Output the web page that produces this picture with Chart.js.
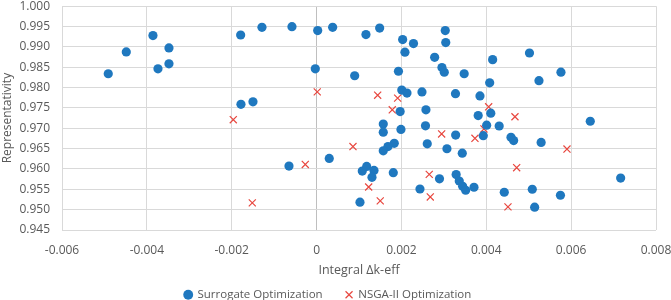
<!DOCTYPE html>
<html>
<head>
<meta charset="utf-8">
<script src="https://cdn.jsdelivr.net/npm/chart.js@4.4.1/dist/chart.umd.min.js"></script>
<style>
    html, body { margin: 0; padding: 0; background: #fff; }
    #wrap { width: 671px; height: 300px; }
</style>
</head>
<body>
<div id="wrap"><canvas id="chart" width="671" height="300"></canvas></div>
<script>
// Surrogate Optimization (blue dots)
const surrogateX = [
    -0.00491, -0.004485, -0.003856, -0.003479, -0.003738, -0.003479,
    -0.001789, -0.001287, -0.00058, 0.000026, 0.000379, -0.00003, 0.000898, 0.001164, 0.001487,
    -0.001782, -0.001499, -0.00065, 0.000299, 0.001023,
    0.002029, 0.002284, 0.002083, 0.003033, 0.003045, 0.002783, 0.002955, 0.00301, 0.003479, 0.00193,
    0.002008, 0.002131, 0.002484, 0.003274, 0.003851, 0.00197, 0.002578,
    0.001572, 0.001572, 0.001989, 0.002567, 0.003278, 0.002609, 0.003073, 0.003434, 0.001831, 0.001683, 0.001572,
    0.001077, 0.001181, 0.001353, 0.001306, 0.001808, 0.002897, 0.002437, 0.00329, 0.003363, 0.003443, 0.003514, 0.00371,
    0.00415, 0.005018, 0.00576, 0.005242, 0.00408, 0.004106, 0.003809, 0.004009, 0.004304, 0.003929,
    0.004582, 0.004645, 0.005293, 0.004424, 0.005084, 0.005748, 0.00514, 0.006451, 0.007167
];
const surrogateY = [
    0.9834, 0.98877, 0.99278, 0.98975, 0.98462, 0.98584,
    0.99292, 0.9948, 0.99497, 0.994, 0.9948, 0.98462, 0.98291, 0.99302, 0.99463,
    0.97588, 0.97649, 0.9607, 0.96258, 0.95184,
    0.9918, 0.99082, 0.9887, 0.99402, 0.99107, 0.98743, 0.98492, 0.98377, 0.9834, 0.98401,
    0.97938, 0.97864, 0.97894, 0.9785, 0.97796, 0.9741, 0.97454,
    0.97105, 0.96905, 0.96971, 0.97059, 0.96832, 0.96617, 0.96497, 0.96387, 0.96631, 0.96551, 0.96446,
    0.95948, 0.96063, 0.95965, 0.95794, 0.95909, 0.95757, 0.95508, 0.95862, 0.95704, 0.95574, 0.95477, 0.9555,
    0.98687, 0.9885, 0.98379, 0.98169, 0.98118, 0.97371, 0.97313, 0.97076, 0.97056, 0.96819,
    0.96778, 0.96697, 0.96653, 0.95428, 0.95501, 0.95354, 0.95062, 0.97173, 0.95777
];

// NSGA-II Optimization (red crosses)
const nsgaX = [
    -0.001963, -0.001515, -0.000266, 0.000016, 0.000858, 0.001228, 0.00144, 0.001501, 0.001784, 0.001911,
    0.002656, 0.00268, 0.002948, 0.003733, 0.003945, 0.004056, 0.004511, 0.004676, 0.004716, 0.005902
];
const nsgaY = [
    0.9721, 0.95167, 0.96111, 0.97894, 0.96551, 0.95557, 0.97813, 0.95215, 0.97454, 0.9774,
    0.95867, 0.95313, 0.96861, 0.96753, 0.96983, 0.97527, 0.95069, 0.97283, 0.96031, 0.9649
];

// axis ticks
const xTicks = [-0.006, -0.004, -0.002, 0, 0.002, 0.004, 0.006, 0.008];
const yTicks = [0.945, 0.95, 0.955, 0.96, 0.965, 0.97, 0.975, 0.98, 0.985, 0.99, 0.995, 1.0];

const toPoints = (xs, ys) => xs.map((x, i) => ({ x: x, y: ys[i] }));

const textColor = '#595959';
const gridColor = '#d9d9d9';
const fontFamily = "'Open Sans', 'Noto Sans', sans-serif";

new Chart(document.getElementById('chart'), {
    type: 'scatter',
    data: {
        datasets: [{
            label: 'Surrogate Optimization',
            data: toPoints(surrogateX, surrogateY),
            pointStyle: 'circle',
            pointRadius: 4.6,
            backgroundColor: '#1f78bf',
            borderColor: '#1f78bf',
            borderWidth: 0
        }, {
            label: 'NSGA-II Optimization',
            data: toPoints(nsgaX, nsgaY),
            pointStyle: 'crossRot',
            pointRadius: 5,
            backgroundColor: '#e8473f',
            borderColor: '#e8473f',
            borderWidth: 1.2
        }]
    },
    options: {
        responsive: false,
        animation: false,
        layout: {
            padding: { left: 0, right: 15, top: 5, bottom: 0 }
        },
        plugins: {
            tooltip: { enabled: false },
            legend: {
                position: 'bottom',
                maxHeight: 22,
                labels: {
                    usePointStyle: true,
                    boxWidth: 7,
                    boxHeight: 7,
                    padding: 11,
                    color: textColor,
                    font: { family: fontFamily, size: 11.5 },
                    // a bit more room between the two entries
                    generateLabels: (chart) => {
                        const items = Chart.defaults.plugins.legend.labels.generateLabels(chart);
                        items[0].text = items[0].text + '    ';
                        return items;
                    }
                }
            }
        },
        scales: {
            x: {
                type: 'linear',
                min: xTicks[0],
                max: xTicks[xTicks.length - 1],
                afterBuildTicks: (scale) => { scale.ticks = xTicks.map(v => ({ value: v })); },
                afterFit: (scale) => {
                    scale.height = 48;
                    scale.paddingRight = 0;
                },
                ticks: {
                    color: textColor,
                    padding: 13,
                    font: { family: fontFamily, size: 12 },
                    callback: (v) => v == 0 ? '0' : v.toFixed(3)
                },
                grid: {
                    drawTicks: false,
                    color: (ctx) => ctx.tick && ctx.tick.value == 0 ? '#bfbfbf' : gridColor
                },
                border: { display: false },
                title: {
                    display: true,
                    text: 'Integral Δk-eff',
                    color: textColor,
                    padding: { top: 4, bottom: 0 },
                    font: { family: fontFamily, size: 12.5 }
                }
            },
            y: {
                type: 'linear',
                min: yTicks[0],
                max: yTicks[yTicks.length - 1],
                afterBuildTicks: (scale) => { scale.ticks = yTicks.map(v => ({ value: v })); },
                afterFit: (scale) => {
                    scale.width = 62;
                    scale.paddingTop = 0;
                    scale.paddingBottom = 0;
                },
                ticks: {
                    color: textColor,
                    padding: 12,
                    font: { family: fontFamily, size: 12 },
                    callback: (v) => v.toFixed(3)
                },
                grid: { drawTicks: false, color: gridColor },
                border: { display: false },
                title: {
                    display: true,
                    text: 'Representativity',
                    color: textColor,
                    padding: { top: 0, bottom: 0 },
                    font: { family: fontFamily, size: 12 }
                }
            }
        }
    }
});
</script>
</body>
</html>
